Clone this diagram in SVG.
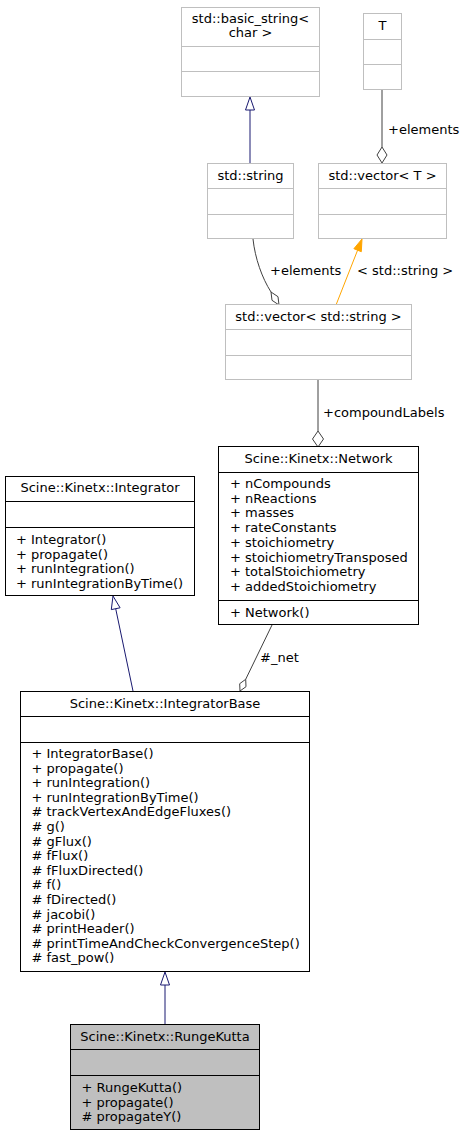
<svg xmlns="http://www.w3.org/2000/svg" width="465" height="1136" viewBox="0 0 465 1136">
<style>
text{font-family:"DejaVu Sans","Liberation Sans",sans-serif;font-size:13px;fill:#000}
.c{text-anchor:middle}
.g{fill:#fff;stroke:#bfbfbf;stroke-width:1}
.b{fill:#fff;stroke:#000;stroke-width:1}
.k{fill:#bfbfbf;stroke:#000;stroke-width:1}
.lg{stroke:#bfbfbf;stroke-width:1}
.lb{stroke:#000;stroke-width:1}
.inh{fill:none;stroke:#191970;stroke-width:1}
.agg{fill:none;stroke:#404040;stroke-width:1}
.tpl{fill:none;stroke:orange;stroke-width:1}
</style>
<rect width="465" height="1136" fill="#fff"/>
<g id="edges">
<line class="inh" x1="250" y1="163" x2="250" y2="110"/>
<polygon points="250,97 254.5,110 245.5,110" fill="#fff" stroke="#191970"/>
<line class="agg" x1="382" y1="90" x2="382" y2="147"/>
<polygon points="382,163 387,155 382,147 377,155" fill="#fff" stroke="#404040"/>
<text x="388" y="134">+elements</text>
<path class="agg" d="M253,239 C255,258 262,278 271,292"/>
<polygon points="279,305 278,296.7 271,292 272,300.3" fill="#fff" stroke="#404040"/>
<text x="270" y="275">+elements</text>
<line class="tpl" x1="336" y1="305" x2="357.6" y2="250.2"/>
<polygon points="362,239 361.3,251.7 353.9,248.7" fill="orange" stroke="orange"/>
<text x="357" y="275">&lt; std::string &gt;</text>
<line class="agg" x1="318" y1="380" x2="318" y2="431"/>
<polygon points="318,447 323.5,439 318,431 312.5,439" fill="#fff" stroke="#404040"/>
<text x="323" y="417">+compoundLabels</text>
<line class="inh" x1="133" y1="691" x2="115.7" y2="608.7"/>
<polygon points="113,596 120.1,607.8 111.3,609.6" fill="#fff" stroke="#191970"/>
<line class="agg" x1="272" y1="625" x2="245.7" y2="679.3"/>
<polygon points="240,691 246,686.7 245.7,679.3 239.7,683.7" fill="#fff" stroke="#404040"/>
<text x="260" y="662">#_net</text>
<line class="inh" x1="165" y1="1025" x2="165" y2="985"/>
<polygon points="165,972 169.5,985 160.5,985" fill="#fff" stroke="#191970"/>
</g>
<g id="basic_string">
<rect class="g" x="181.5" y="7.5" width="138" height="89"/>
<line class="lg" x1="181.5" y1="46.5" x2="319.5" y2="46.5"/>
<line class="lg" x1="181.5" y1="71.5" x2="319.5" y2="71.5"/>
<text class="c" x="250.5" y="23">std::basic_string&lt;</text>
<text class="c" x="250.5" y="37">char &gt;</text>
</g>
<g id="T">
<rect class="g" x="363.5" y="13.5" width="38" height="76"/>
<line class="lg" x1="363.5" y1="39.5" x2="401.5" y2="39.5"/>
<line class="lg" x1="363.5" y1="64.5" x2="401.5" y2="64.5"/>
<text class="c" x="382.5" y="30">T</text>
</g>
<g id="std_string">
<rect class="g" x="207.5" y="163.5" width="86" height="75"/>
<line class="lg" x1="207.5" y1="188.5" x2="293.5" y2="188.5"/>
<line class="lg" x1="207.5" y1="214.5" x2="293.5" y2="214.5"/>
<text class="c" x="250.5" y="180">std::string</text>
</g>
<g id="vector_T">
<rect class="g" x="318.5" y="163.5" width="128" height="75"/>
<line class="lg" x1="318.5" y1="188.5" x2="446.5" y2="188.5"/>
<line class="lg" x1="318.5" y1="214.5" x2="446.5" y2="214.5"/>
<text class="c" x="382.5" y="180">std::vector&lt; T &gt;</text>
</g>
<g id="vector_string">
<rect class="g" x="225.5" y="304.5" width="186" height="75"/>
<line class="lg" x1="225.5" y1="329.5" x2="411.5" y2="329.5"/>
<line class="lg" x1="225.5" y1="355.5" x2="411.5" y2="355.5"/>
<text class="c" x="318.5" y="321">std::vector&lt; std::string &gt;</text>
</g>
<g id="Network">
<rect class="b" x="218.5" y="446.5" width="200" height="178"/>
<line class="lb" x1="218.5" y1="472.5" x2="418.5" y2="472.5"/>
<line class="lb" x1="218.5" y1="600.5" x2="418.5" y2="600.5"/>
<text class="c" x="318.5" y="463">Scine::Kinetx::Network</text>
<text x="230" y="488">+ nCompounds</text>
<text x="230" y="502.7">+ nReactions</text>
<text x="230" y="517.4">+ masses</text>
<text x="230" y="532.1">+ rateConstants</text>
<text x="230" y="546.8">+ stoichiometry</text>
<text x="230" y="561.5">+ stoichiometryTransposed</text>
<text x="230" y="576.2">+ totalStoichiometry</text>
<text x="230" y="590.9">+ addedStoichiometry</text>
<text x="230" y="617">+ Network()</text>
</g>
<g id="Integrator">
<rect class="b" x="5.5" y="476.5" width="189" height="119"/>
<line class="lb" x1="5.5" y1="501.5" x2="194.5" y2="501.5"/>
<line class="lb" x1="5.5" y1="527.5" x2="194.5" y2="527.5"/>
<text class="c" x="100" y="492">Scine::Kinetx::Integrator</text>
<text x="16" y="544">+ Integrator()</text>
<text x="16" y="558.7">+ propagate()</text>
<text x="16" y="573.4">+ runIntegration()</text>
<text x="16" y="588.1">+ runIntegrationByTime()</text>
</g>
<g id="IntegratorBase">
<rect class="b" x="20.5" y="691.5" width="289" height="280"/>
<line class="lb" x1="20.5" y1="716.5" x2="309.5" y2="716.5"/>
<line class="lb" x1="20.5" y1="742.5" x2="309.5" y2="742.5"/>
<text class="c" x="165" y="708">Scine::Kinetx::IntegratorBase</text>
<text x="31.5" y="758">+ IntegratorBase()</text>
<text x="31.5" y="772.6">+ propagate()</text>
<text x="31.5" y="787.2">+ runIntegration()</text>
<text x="31.5" y="801.8">+ runIntegrationByTime()</text>
<text x="31.5" y="816.4"># trackVertexAndEdgeFluxes()</text>
<text x="31.5" y="831"># g()</text>
<text x="31.5" y="845.6"># gFlux()</text>
<text x="31.5" y="860.2"># fFlux()</text>
<text x="31.5" y="874.8"># fFluxDirected()</text>
<text x="31.5" y="889.4"># f()</text>
<text x="31.5" y="904"># fDirected()</text>
<text x="31.5" y="918.6"># jacobi()</text>
<text x="31.5" y="933.2"># printHeader()</text>
<text x="31.5" y="947.8"># printTimeAndCheckConvergenceStep()</text>
<text x="31.5" y="962.4"># fast_pow()</text>
</g>
<g id="RungeKutta">
<rect class="k" x="70.5" y="1024.5" width="189" height="105"/>
<line class="lb" x1="70.5" y1="1049.5" x2="259.5" y2="1049.5"/>
<line class="lb" x1="70.5" y1="1075.5" x2="259.5" y2="1075.5"/>
<text class="c" x="165" y="1041">Scine::Kinetx::RungeKutta</text>
<text x="81.5" y="1092">+ RungeKutta()</text>
<text x="81.5" y="1106.7">+ propagate()</text>
<text x="81.5" y="1121.4"># propagateY()</text>
</g>
</svg>
